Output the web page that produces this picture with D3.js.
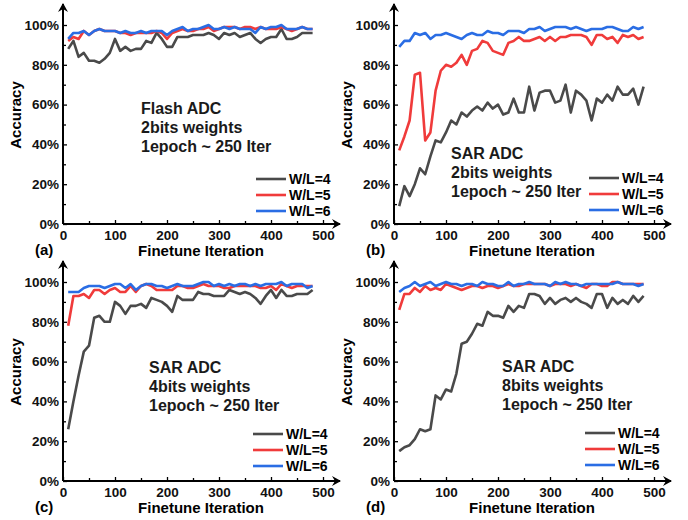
<!DOCTYPE html>
<html lang="en">
<head>
  <meta charset="utf-8">
  <title>Finetune accuracy</title>
  <script src="https://d3js.org/d3.v7.min.js"></script>
  <style>
    html, body { margin:0; padding:0; background:#fff; }
    svg { display:block; font-family:"Liberation Sans", Arial, sans-serif; font-weight:bold; }
  </style>
</head>
<body>
  <svg id="chart" width="688" height="520"></svg>
  <script>
    // ─── Data ────────────────────────────────────────────────────────────────
    const iterations = [10,20,30,40,50,60,70,80,90,100,110,120,130,140,150,160,
      170,180,190,200,210,220,230,240,250,260,270,280,290,300,310,320,330,340,
      350,360,370,380,390,400,410,420,430,440,450,460,470,480];

    // (a) Flash ADC, 2bits weights
    const flash2W4 = [88,92,84,86,82,82,81,83,86,93,87,89,87,88,88,92,91,96,93,89,
      89,94,94,94,95,95,95,96,95,93,96,95,96,94,95,96,93,91,93,94,94,98,93,93,94,96,96,96];
    const flash2W5 = [92,94,93,97,95,97,98,97,97,97,96,96,95,96,96,96,96,97,96,93,
      96,97,98,97,97,98,98,99,97,98,99,99,99,98,99,99,98,99,98,98,98,99,98,97,98,99,98,98];
    const flash2W6 = [93,96,96,97,95,97,98,97,97,97,96,97,96,96,97,96,97,97,97,95,
      97,98,99,97,98,98,99,100,98,98,99,98,99,98,98,98,96,99,98,99,99,100,98,98,98,99,98,98];

    // (b) SAR ADC, 2bits weights
    const sar2W4 = [9,19,14,20,28,25,34,42,41,46,52,50,56,54,57,59,57,61,58,60,
      55,56,63,56,56,69,57,66,67,67,61,62,70,56,67,65,62,52,63,61,65,62,69,65,65,68,60,69];
    const sar2W5 = [37,44,52,75,76,42,46,67,77,80,79,81,85,80,87,88,92,91,87,86,
      85,91,92,94,92,92,93,94,92,94,92,94,94,95,95,95,94,90,95,95,93,94,91,95,94,95,93,94];
    const sar2W6 = [89,92,92,96,95,96,93,95,95,96,95,94,93,95,96,95,95,97,96,96,
      95,97,97,97,96,98,98,99,97,98,99,99,99,98,99,98,97,98,98,98,99,99,98,97,97,99,98,99];

    // (c) SAR ADC, 4bits weights
    const sar4W4 = [26,40,53,65,68,82,83,80,80,90,88,84,88,88,89,87,92,91,90,88,
      85,93,91,91,91,95,94,94,93,93,93,96,95,94,95,94,92,89,93,96,92,96,93,93,94,94,94,96];
    const sar4W5 = [78,93,93,94,92,96,96,94,96,97,95,95,98,95,98,99,98,96,96,96,
      96,98,98,97,97,98,99,98,98,98,97,97,98,98,98,98,98,97,97,98,96,99,98,97,98,98,98,98];
    const sar4W6 = [95,95,95,97,98,98,98,97,98,99,99,97,99,96,98,99,99,98,98,97,
      98,99,98,98,98,99,100,100,98,99,98,99,98,99,99,98,99,98,99,99,99,100,98,99,99,99,97,98];

    // (d) SAR ADC, 8bits weights
    const sar8W4 = [15,17,18,21,26,25,26,43,41,46,45,54,69,70,74,79,78,85,83,83,
      82,88,85,88,87,94,94,93,89,92,89,91,92,90,92,90,89,87,94,94,87,92,89,91,89,93,90,93];
    const sar8W5 = [86,94,94,97,95,98,96,97,96,99,98,97,96,97,98,98,97,98,98,97,
      98,99,98,98,99,99,99,99,99,98,99,99,99,98,99,98,97,99,99,98,98,100,100,99,99,99,99,99];
    const sar8W6 = [95,97,98,100,98,99,100,98,99,100,99,99,98,99,99,98,100,99,99,98,
      98,100,98,99,99,100,99,99,99,98,100,99,100,99,99,98,99,99,99,99,99,99,100,99,99,99,98,99];

    const seriesNames = ["W/L=4", "W/L=5", "W/L=6"];
    const panelLetters = ["(a)", "(b)", "(c)", "(d)"];
    const panelNotes = [
      ["Flash ADC", "2bits weights", "1epoch ~ 250 Iter"],
      ["SAR ADC", "2bits weights", "1epoch ~ 250 Iter"],
      ["SAR ADC", "4bits weights", "1epoch ~ 250 Iter"],
      ["SAR ADC", "8bits weights", "1epoch ~ 250 Iter"]
    ];
    const panelSeries = [
      [flash2W4, flash2W5, flash2W6],
      [sar2W4, sar2W5, sar2W6],
      [sar4W4, sar4W5, sar4W6],
      [sar8W4, sar8W5, sar8W6]
    ];
    const xTicks = [0, 100, 200, 300, 400, 500];
    const xMinorTicks = [50, 150, 250, 350, 450];
    const yTicks = [0, 20, 40, 60, 80, 100];
    const yMinorTicks = [10, 30, 50, 70, 90];
    const xLabel = "Finetune Iteration";
    const yLabel = "Accuracy";
    // ───────────────────────────────────────────────────────────────────────────

    const colors = ["#4a4a4a", "#f03b3b", "#2a6de4"];

    // plot boxes: left/top of the 0..500 x 0..100% area
    const boxes = [
      { x: 63,  y: 25,  notes: [141, 114], legend: [256, 179] },
      { x: 394, y: 25,  notes: [451, 159], legend: [589, 178] },
      { x: 63,  y: 282, notes: [149, 373], legend: [253, 434] },
      { x: 394, y: 282, notes: [502, 372], legend: [585, 433] }
    ];
    const W = 260, H = 199;

    const svg = d3.select("#chart");

    const defs = svg.append("defs");
    defs.append("marker")
      .attr("id", "arrow")
      .attr("viewBox", "-10 -6 12 12")
      .attr("refX", 0).attr("refY", 0)
      .attr("markerWidth", 12).attr("markerHeight", 12)
      .attr("markerUnits", "userSpaceOnUse")
      .attr("orient", "auto")
      .append("path")
        .attr("d", "M1,0 L-8,-5 L-5,0 L-8,5 Z")
        .attr("fill", "#000");

    panelSeries.forEach((series, p) => {
      const b = boxes[p];
      const g = svg.append("g").attr("transform", `translate(${b.x},${b.y})`);

      const x = d3.scaleLinear().domain([0, 500]).range([0, W]);
      const y = d3.scaleLinear().domain([0, 100]).range([H, 0]);

      // minor ticks
      g.append("g")
        .attr("transform", `translate(0,${H})`)
        .call(d3.axisBottom(x).tickValues(xMinorTicks).tickSize(-3).tickFormat(""))
        .call(a => a.select(".domain").remove());
      g.append("g")
        .call(d3.axisLeft(y).tickValues(yMinorTicks).tickSize(-3).tickFormat(""))
        .call(a => a.select(".domain").remove());

      // major ticks + labels
      g.append("g")
        .attr("transform", `translate(0,${H})`)
        .call(d3.axisBottom(x).tickValues(xTicks).tickSize(-4).tickPadding(6).tickFormat(d3.format("d")))
        .call(a => a.select(".domain").remove())
        .call(a => a.selectAll("text").style("font-size", "13.5px").style("font-weight", "bold")
          .attr("font-family", "Liberation Sans, Arial, sans-serif").attr("fill", "#111"));
      g.append("g")
        .call(d3.axisLeft(y).tickValues(yTicks).tickSize(-4).tickPadding(4).tickFormat(d => d + "%"))
        .call(a => a.select(".domain").remove())
        .call(a => a.selectAll("text").style("font-size", "13.5px").style("font-weight", "bold")
          .attr("font-family", "Liberation Sans, Arial, sans-serif").attr("fill", "#111"));
      g.selectAll(".tick line").attr("stroke", "#000").attr("stroke-width", 1.3);

      // axis lines with arrows
      g.append("line")
        .attr("x1", 0).attr("y1", H).attr("x2", x(500) + 17).attr("y2", H)
        .attr("stroke", "#000").attr("stroke-width", 2)
        .attr("marker-end", "url(#arrow)");
      g.append("line")
        .attr("x1", 0).attr("y1", H).attr("x2", 0).attr("y2", y(100) - 21)
        .attr("stroke", "#000").attr("stroke-width", 2)
        .attr("marker-end", "url(#arrow)");

      // series
      const line = d3.line()
        .x((d, i) => x(iterations[i]))
        .y(d => y(d));
      series.forEach((vals, s) => {
        g.append("path")
          .datum(vals)
          .attr("d", line)
          .attr("fill", "none")
          .attr("stroke", colors[s])
          .attr("stroke-width", 2.6)
          .attr("stroke-linejoin", "round");
      });

      // annotation
      panelNotes[p].forEach((t, i) => {
        svg.append("text")
          .attr("x", b.notes[0]).attr("y", b.notes[1] + i * 19)
          .style("font-size", "16px")
          .attr("fill", "#1a1a1a")
          .text(t);
      });

      // legend
      seriesNames.forEach((n, i) => {
        const ly = b.legend[1] + i * 16;
        svg.append("line")
          .attr("x1", b.legend[0]).attr("x2", b.legend[0] + 30)
          .attr("y1", ly).attr("y2", ly)
          .attr("stroke", colors[i]).attr("stroke-width", 2.6);
        svg.append("text")
          .attr("x", b.legend[0] + 33).attr("y", ly)
          .attr("dy", "0.36em")
          .style("font-size", "14px")
          .text(n);
      });

      // axis titles
      svg.append("text")
        .attr("x", b.x + 138).attr("y", b.y + H + 32)
        .attr("text-anchor", "middle")
        .style("font-size", "15px")
        .text(xLabel);
      svg.append("text")
        .attr("transform", `translate(${b.x - 42},${b.y + 90}) rotate(-90)`)
        .attr("text-anchor", "middle")
        .style("font-size", "15px")
        .text(yLabel);
      svg.append("text")
        .attr("x", b.x - 28).attr("y", b.y + H + 31)
        .style("font-size", "15px")
        .text(panelLetters[p]);
    });
  </script>
</body>
</html>
